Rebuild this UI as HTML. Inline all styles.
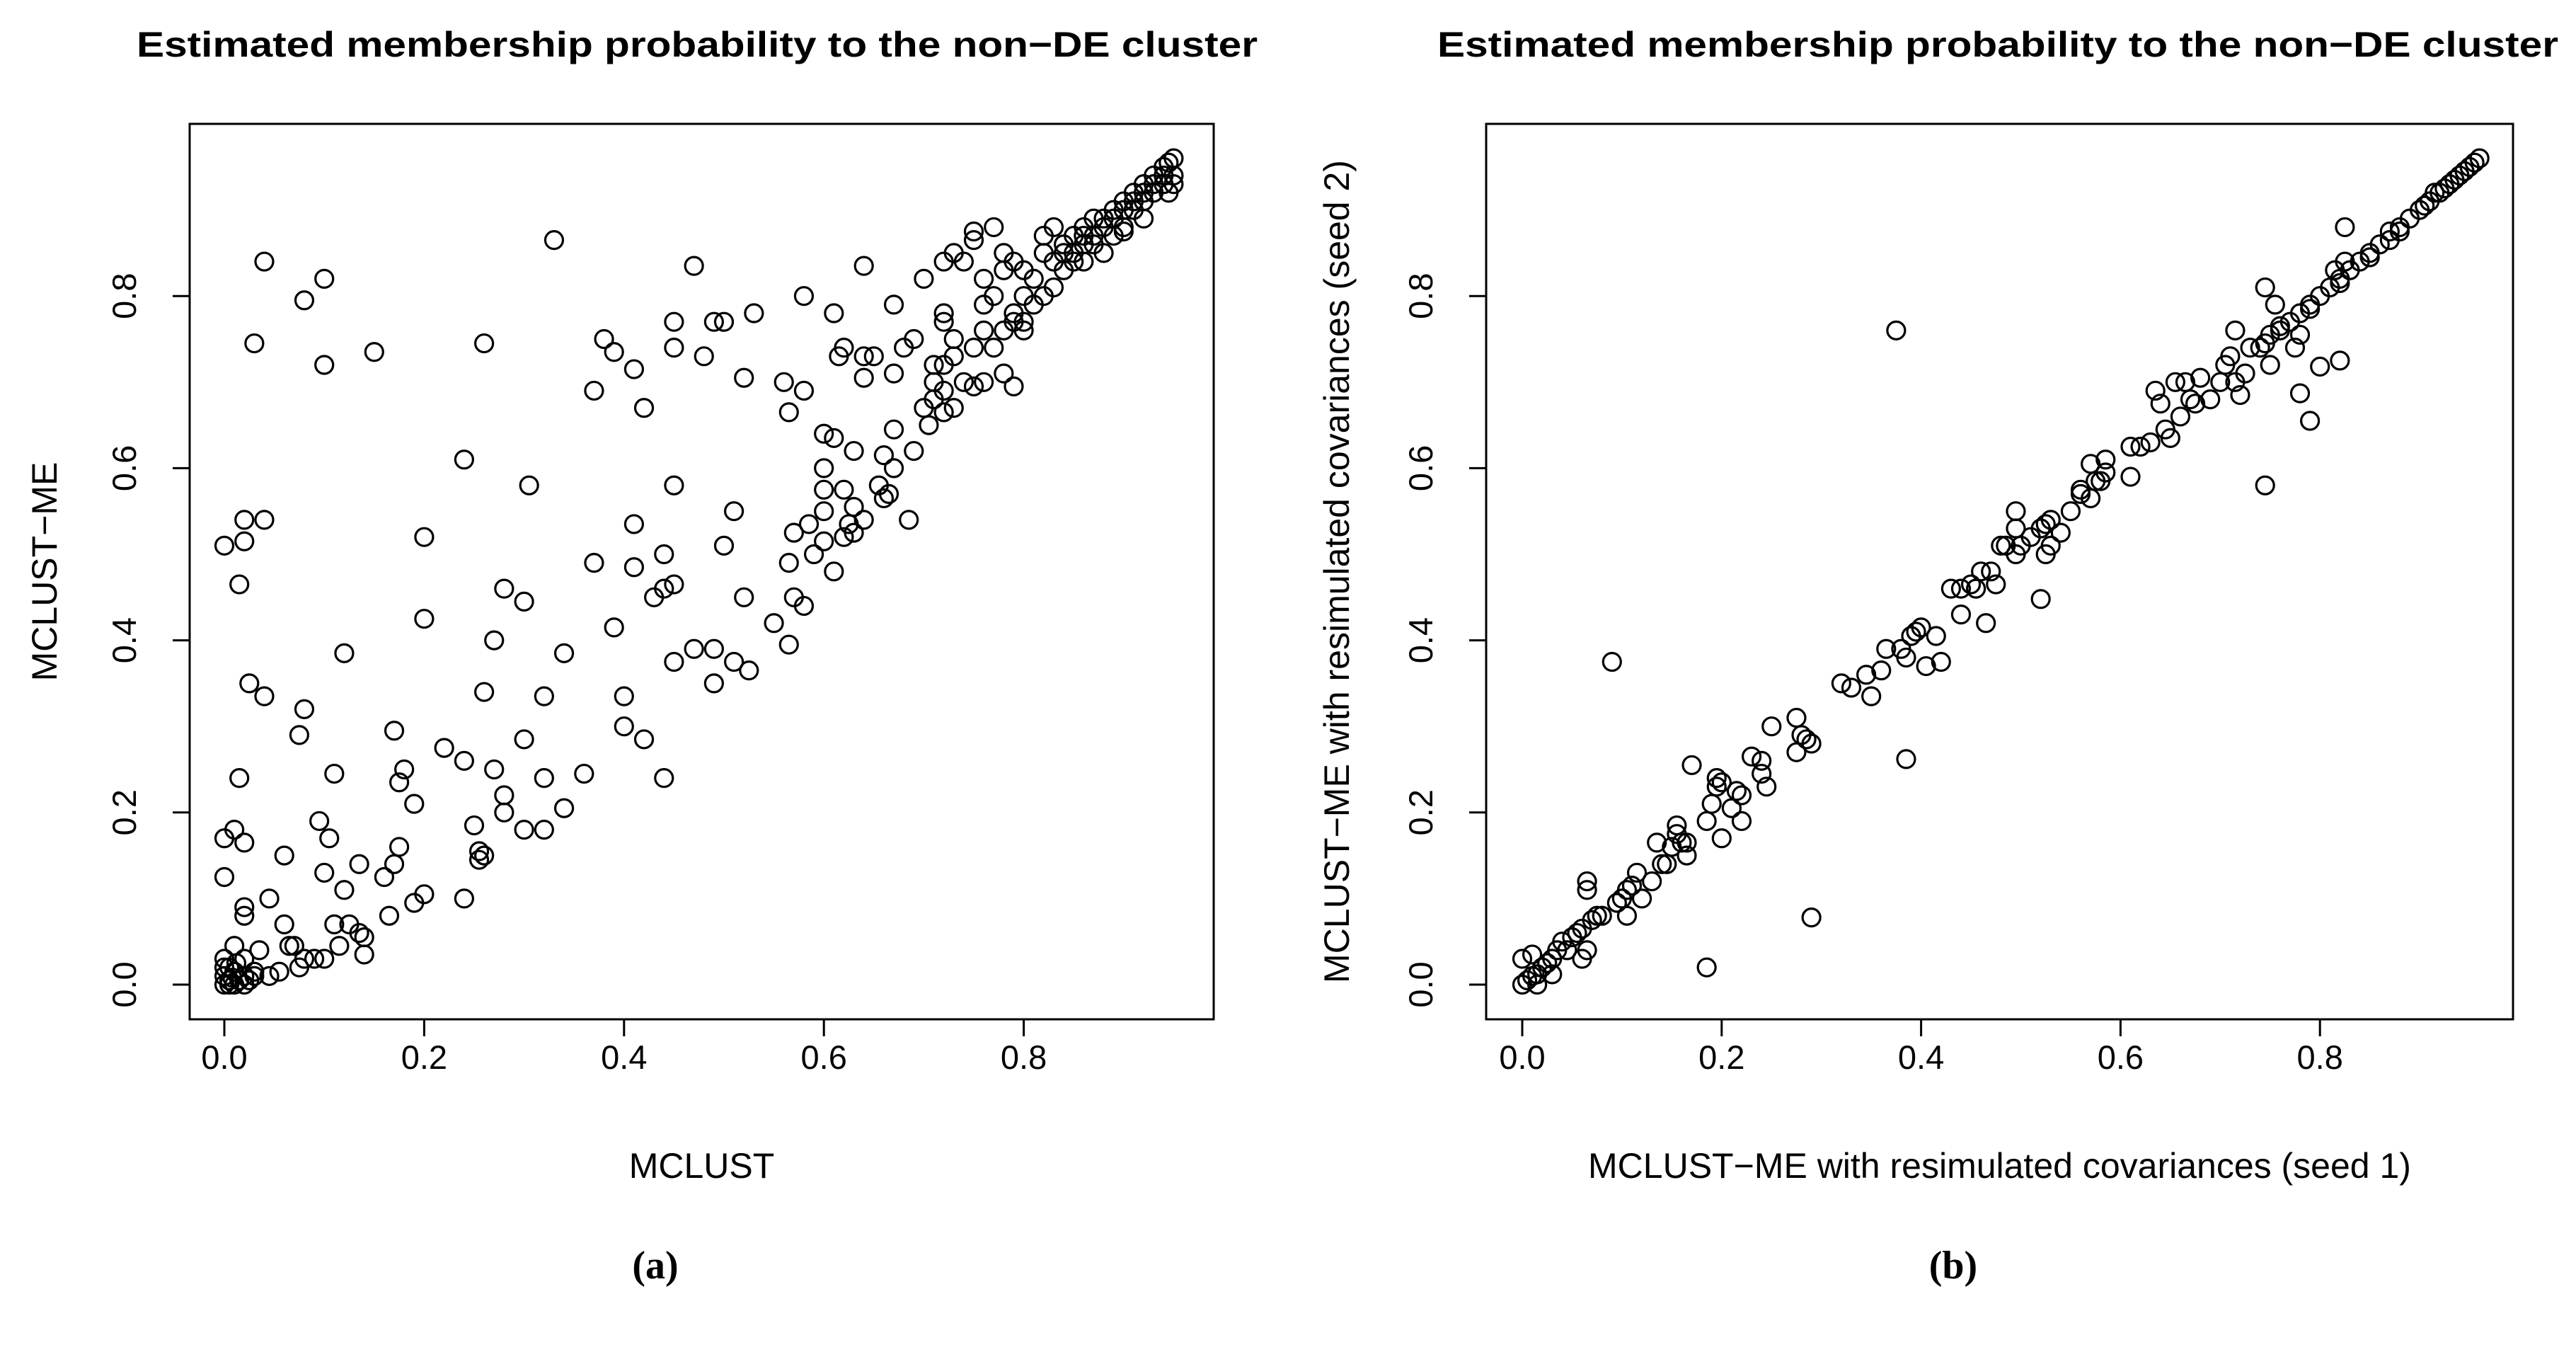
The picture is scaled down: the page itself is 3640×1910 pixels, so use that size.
<!DOCTYPE html>
<html><head><meta charset="utf-8"><style>
html,body{margin:0;padding:0;background:#fff}
svg{display:block}
text{font-family:"Liberation Sans",sans-serif;fill:#000}
</style></head><body>
<svg id="fig" xmlns="http://www.w3.org/2000/svg" width="3640" height="1910" viewBox="0 0 3640 1910">
<rect width="3640" height="1910" fill="#fff"/>
</svg>
<script>
const tickValues=[0,0.2,0.4,0.6,0.8];
const tickLabels=["0.0","0.2","0.4","0.6","0.8"];
const leftX=[0.04,0.10,0.08,0.03,0.10,0.15,0.26,0.33,0.47,0.38,0.39,0.41,0.37,0.42,0.45,0.45,0.49,0.50,0.48,0.53,0.58,0.61,0.64,0.67,0.52,0.56,0.58,0.565,0.62,0.615,0.64,0.65,0.64,0.67,0.68,0.69,0.70,0.67,0.69,0.66,0.60,0.61,0.63,0.60,0.60,0.62,0.655,0.66,0.665,0.67,0.63,0.60,0.64,0.685,0.625,0.63,0.62,0.60,0.59,0.61,0.57,0.585,0.565,0.57,0.58,0.55,0.565,0.51,0.50,0.52,0.51,0.525,0.49,0.49,0.47,0.45,0.45,0.44,0.45,0.44,0.43,0.41,0.41,0.37,0.39,0.40,0.40,0.42,0.44,0.34,0.30,0.28,0.27,0.26,0.32,0.30,0.27,0.32,0.28,0.28,0.30,0.32,0.34,0.36,0.305,0.24,0.20,0.20,0.12,0.02,0.04,0.02,0.0,0.015,0.025,0.04,0.08,0.075,0.015,0.11,0.17,0.22,0.24,0.18,0.175,0.19,0.25,0.255,0.26,0.255,0.175,0.17,0.16,0.135,0.095,0.105,0.01,0.0,0.02,0.06,0.0,0.10,0.12,0.045,0.02,0.02,0.06,0.165,0.19,0.2,0.24,0.11,0.125,0.135,0.14,0.14,0.115,0.07,0.065,0.10,0.09,0.08,0.075,0.055,0.045,0.035,0.01,0.03,0.02,0.0,0.005,
0.72,0.73,0.75,0.75,0.77,0.74,0.72,0.72,0.73,0.72,0.71,0.73,0.71,0.72,0.71,0.70,0.705,0.72,0.73,0.74,0.75,0.76,0.78,0.79,0.75,0.76,0.76,0.77,0.76,0.78,0.78,0.79,0.80,0.80,0.79,0.78,0.77,0.80,0.81,0.81,0.82,0.82,0.83,0.84,0.84,0.83,0.85,0.86,0.86,0.87,0.87,0.88,0.88,0.89,0.89,0.90,0.90,0.91,0.91,0.92,0.92,0.93,0.93,0.94,0.94,0.945,0.95,0.95,0.95,0.945,0.92,0.90,0.86,0.85,0.83,0.82,0.80,0.79,0.85,0.87,0.89,0.91,0.93,0.94,0.88,0.86,0.84,0.90,0.92,
0,0.005,0.01,0.0,0.015,0.02,0.01,0.005,0.02,0.025,0.0,0.012,0.03,0.008];
const leftY=[0.84,0.82,0.795,0.745,0.72,0.735,0.745,0.865,0.835,0.75,0.735,0.715,0.69,0.67,0.77,0.74,0.77,0.77,0.73,0.78,0.80,0.78,0.835,0.79,0.705,0.70,0.69,0.665,0.74,0.73,0.73,0.73,0.705,0.71,0.74,0.75,0.82,0.645,0.62,0.615,0.64,0.635,0.62,0.60,0.575,0.575,0.58,0.565,0.57,0.60,0.555,0.55,0.54,0.54,0.535,0.525,0.52,0.515,0.50,0.48,0.525,0.535,0.49,0.45,0.44,0.42,0.395,0.55,0.51,0.45,0.375,0.365,0.39,0.35,0.39,0.375,0.58,0.50,0.465,0.46,0.45,0.535,0.485,0.49,0.415,0.335,0.30,0.285,0.24,0.385,0.445,0.46,0.40,0.34,0.335,0.285,0.25,0.24,0.22,0.20,0.18,0.18,0.205,0.245,0.58,0.61,0.52,0.425,0.385,0.54,0.54,0.515,0.51,0.465,0.35,0.335,0.32,0.29,0.24,0.245,0.295,0.275,0.26,0.25,0.235,0.21,0.185,0.155,0.15,0.145,0.16,0.14,0.125,0.14,0.19,0.17,0.18,0.17,0.165,0.15,0.125,0.13,0.11,0.10,0.09,0.08,0.07,0.08,0.095,0.105,0.10,0.07,0.07,0.06,0.055,0.035,0.045,0.045,0.045,0.03,0.03,0.03,0.02,0.015,0.01,0.04,0.045,0.01,0.03,0.03,0.02,
0.84,0.85,0.865,0.875,0.88,0.84,0.78,0.77,0.75,0.72,0.72,0.73,0.70,0.69,0.68,0.67,0.65,0.665,0.67,0.70,0.695,0.70,0.71,0.695,0.74,0.76,0.79,0.80,0.82,0.83,0.85,0.84,0.83,0.80,0.78,0.76,0.74,0.77,0.79,0.82,0.85,0.87,0.88,0.86,0.83,0.81,0.84,0.86,0.88,0.89,0.86,0.85,0.89,0.90,0.87,0.91,0.88,0.90,0.92,0.93,0.91,0.94,0.92,0.95,0.93,0.955,0.96,0.94,0.93,0.92,0.89,0.875,0.84,0.85,0.84,0.80,0.76,0.77,0.87,0.87,0.89,0.91,0.93,0.94,0.88,0.87,0.85,0.90,0.92,
0,0.005,0.0,0.01,0.005,0.01,0.015,0.0,0.0,0.005,0.02,0.025,0.015,0.008];
const rightX=[0.375,0.09,0.385,0.29,0.185,0.745,0.79,0.78,0.80,0.82,0.825,0.745,0.52,
0.0,0.005,0.01,0.015,0.02,0.0,0.01,0.015,0.025,0.03,0.035,0.04,0.045,0.03,0.05,0.055,0.06,0.06,0.065,0.065,0.065,0.07,0.075,0.08,0.095,0.10,0.105,0.105,0.11,0.115,0.12,0.13,0.135,0.14,0.145,0.15,0.155,0.155,0.16,0.165,0.165,0.17,0.185,0.19,0.195,0.195,0.20,0.20,0.21,0.215,0.22,0.22,0.23,0.24,0.24,0.245,0.25,0.275,0.28,0.285,0.275,0.29,0.32,0.33,0.345,0.35,0.36,0.365,0.38,0.385,0.39,0.395,0.40,0.405,0.415,0.42,0.43,0.44,0.44,0.45,0.455,0.46,0.465,0.47,0.475,0.48,0.485,0.495,0.495,0.50,0.495,0.51,0.52,0.525,0.53,0.525,0.53,0.54,0.55,0.56,0.56,0.57,0.575,0.58,0.585,0.585,0.57,0.61,0.61,0.62,0.63,0.635,0.64,0.645,0.65,0.655,0.66,0.665,0.67,0.675,0.68,0.69,0.70,0.705,0.71,0.715,0.715,0.72,0.725,0.73,0.74,0.745,0.75,0.75,0.755,0.76,0.77,0.775,0.78,0.78,0.79,0.80,0.81,0.815,0.82,0.825,0.83,0.84,0.85,0.86,0.87,0.87,0.88,0.89,0.90,0.91,0.915,0.92,0.93,0.935,0.94,0.945,0.95,0.955,0.96,0.88,0.85,0.82,0.79,0.76,0.925,0.905];
const rightY=[0.76,0.375,0.262,0.078,0.02,0.58,0.655,0.687,0.718,0.725,0.88,0.81,0.448,
0.0,0.005,0.01,0.012,0.02,0.03,0.035,0.0,0.025,0.03,0.04,0.05,0.04,0.012,0.055,0.06,0.065,0.03,0.04,0.11,0.12,0.075,0.08,0.08,0.095,0.10,0.11,0.08,0.115,0.13,0.10,0.12,0.165,0.14,0.14,0.16,0.185,0.175,0.165,0.15,0.165,0.255,0.19,0.21,0.24,0.23,0.235,0.17,0.205,0.225,0.19,0.22,0.265,0.26,0.245,0.23,0.30,0.31,0.29,0.285,0.27,0.28,0.35,0.345,0.36,0.335,0.365,0.39,0.39,0.38,0.405,0.41,0.415,0.37,0.405,0.375,0.46,0.46,0.43,0.465,0.46,0.48,0.42,0.48,0.465,0.51,0.51,0.55,0.53,0.51,0.50,0.52,0.53,0.535,0.54,0.50,0.51,0.525,0.55,0.57,0.575,0.605,0.585,0.585,0.61,0.595,0.565,0.625,0.59,0.625,0.63,0.69,0.675,0.645,0.635,0.70,0.66,0.70,0.68,0.675,0.705,0.68,0.70,0.72,0.73,0.76,0.70,0.685,0.71,0.74,0.74,0.745,0.72,0.755,0.79,0.76,0.77,0.74,0.755,0.78,0.79,0.80,0.81,0.83,0.82,0.84,0.83,0.84,0.85,0.86,0.865,0.875,0.88,0.89,0.90,0.91,0.92,0.92,0.93,0.935,0.94,0.945,0.95,0.955,0.96,0.875,0.845,0.815,0.785,0.765,0.925,0.905];

const NS='http://www.w3.org/2000/svg';
const svg=document.getElementById('fig');
function mk(tag,attrs,parent,txt){const e=document.createElementNS(NS,tag);for(const k in attrs)e.setAttribute(k,attrs[k]);if(txt!==undefined)e.textContent=txt;(parent||svg).appendChild(e);return e;}
const TOP=175,BOT=1440;
function panel(cfg,xs,ys){
  const g=mk('g',{});
  
  
  const sx=v=>cfg.x0+v*cfg.kx, sy=v=>cfg.y0-v*cfg.ky;
  const t=mk('text',{x:cfg.titleX,y:80,'text-anchor':'middle','font-size':50,'font-weight':'bold',textLength:1584,lengthAdjust:'spacingAndGlyphs'},g,'Estimated membership probability to the non\u2212DE cluster');
  
  
  const box=mk('rect',{x:cfg.bl,y:TOP,width:cfg.br-cfg.bl,height:BOT-TOP,fill:'none',stroke:'#000','stroke-width':3},g);
  
  
  const xa=mk('g',{},g);
  
  
  mk('line',{x1:sx(0),x2:sx(0.8),y1:BOT,y2:BOT,stroke:'#000','stroke-width':3},xa);
  const ya=mk('g',{},g);
  
  
  mk('line',{x1:cfg.bl,x2:cfg.bl,y1:sy(0),y2:sy(0.8),stroke:'#000','stroke-width':3},ya);
  tickValues.forEach((v,i)=>{
    mk('line',{x1:sx(v),x2:sx(v),y1:BOT,y2:BOT+24,stroke:'#000','stroke-width':3},xa);
    const tl=mk('text',{x:sx(v),y:1510,'text-anchor':'middle','font-size':47},xa,tickLabels[i]);
    
    
    mk('line',{x1:cfg.bl,x2:cfg.bl-24,y1:sy(v),y2:sy(v),stroke:'#000','stroke-width':3},ya);
    const yl=mk('text',{x:0,y:0,'text-anchor':'middle','font-size':47,transform:`translate(${cfg.bl-76},${sy(v)}) rotate(-90)`},ya,tickLabels[i]);
    
    
  });
  const xt=mk('text',{x:(cfg.bl+cfg.br)/2,y:1664,'text-anchor':'middle','font-size':50},g,cfg.xTitle);
  
  
  const yt=mk('text',{x:0,y:0,'text-anchor':'middle','font-size':50,transform:`translate(${cfg.yTitleX},${(TOP+BOT)/2}) rotate(-90)`},g,cfg.yTitle);
  
  
  const pts=mk('g',{fill:'none',stroke:'#000','stroke-width':3.2},g);
  
  
  for(let i=0;i<xs.length;i++){
    const c=mk('circle',{cx:sx(xs[i]),cy:sy(ys[i]),r:12.5},pts);
    
    
  }
  const cap=mk('text',{x:cfg.capX,y:1806,'text-anchor':'middle','font-size':56,'font-weight':'bold',style:'font-family:"Liberation Serif",serif'},g,cfg.cap);
  
  
}
panel({name:'panel-a',x0:317,kx:1412,y0:1391,ky:1216,bl:268,br:1715,titleX:985,xTitle:'MCLUST',yTitle:'MCLUST\u2212ME',yTitleX:80,capX:926,cap:'(a)'},leftX,leftY);
panel({name:'panel-b',x0:2151,kx:1409,y0:1391,ky:1216,bl:2100,br:3551,titleX:2823,xTitle:'MCLUST\u2212ME with resimulated covariances (seed 1)',yTitle:'MCLUST\u2212ME with resimulated covariances (seed 2)',yTitleX:1906,capX:2760,cap:'(b)'},rightX,rightY);
</script>
</body></html>
